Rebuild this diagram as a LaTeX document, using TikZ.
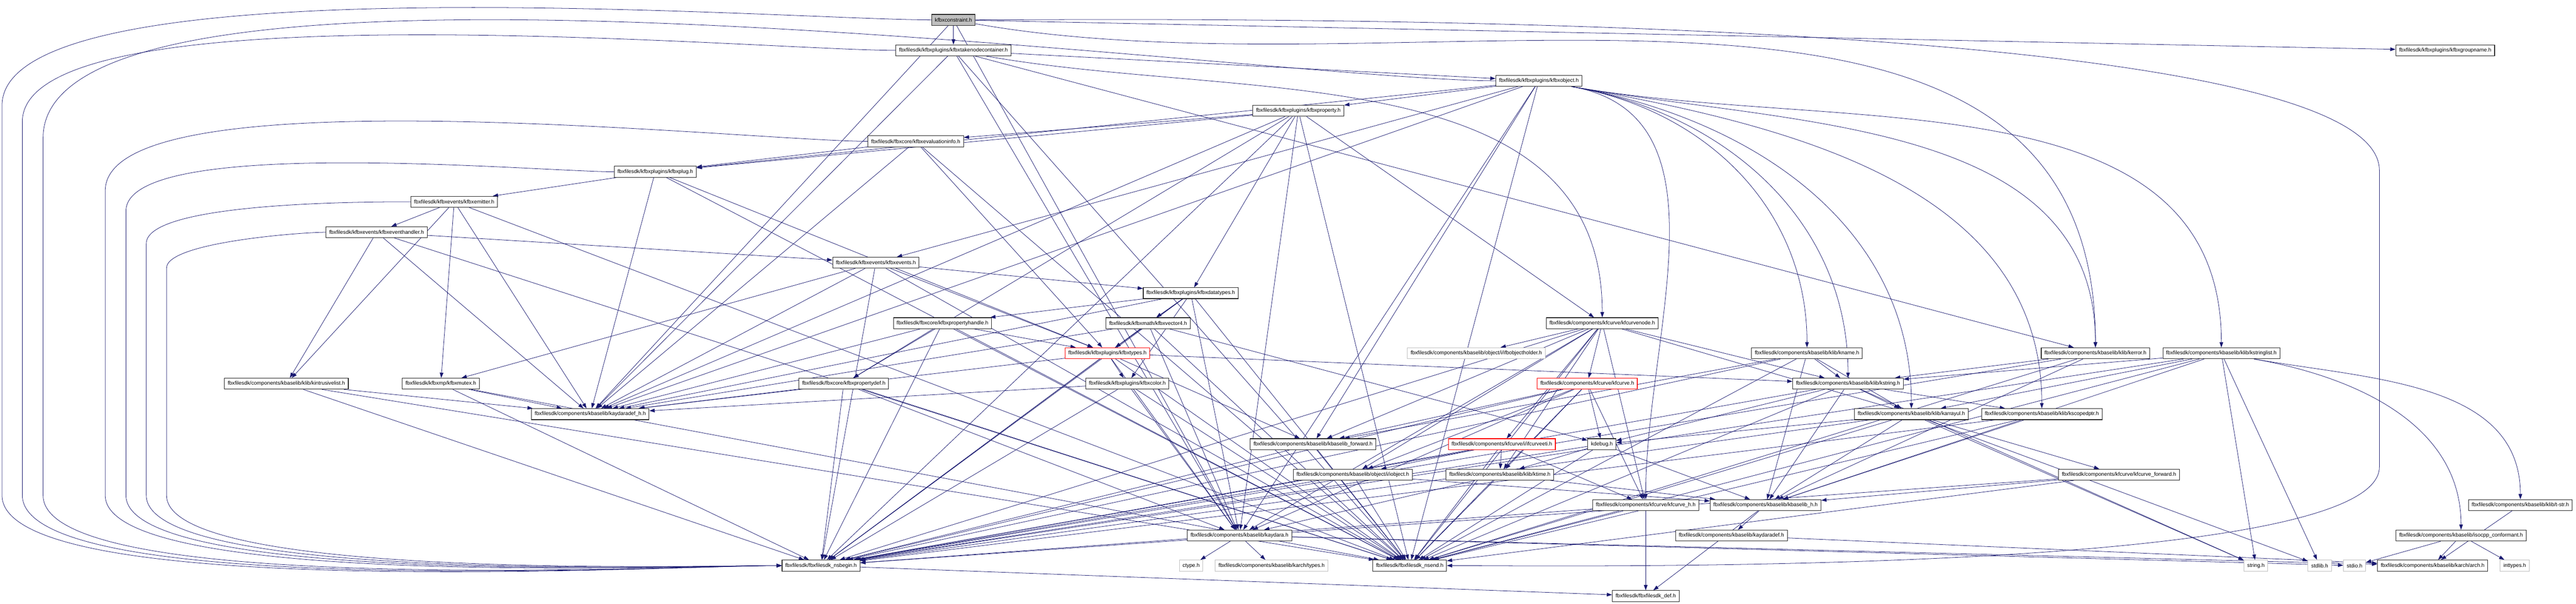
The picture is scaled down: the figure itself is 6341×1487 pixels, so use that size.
\documentclass[tikz,border=0pt]{standalone}
\usepackage{fontspec}
\setmainfont{Liberation Sans}
\definecolor{azulnoche}{RGB}{25,25,112}
\definecolor{gris}{RGB}{191,191,191}
\usetikzlibrary{arrows.meta}
\pgfdeclarelayer{fondo}
\pgfsetlayers{fondo,main}

\tikzset{
    archivo/.style={draw=black!85, line width=0.4pt, fill=white, minimum height=0.27cm, inner xsep=0.08cm, inner ysep=0pt, font=\fontsize{3.7pt}{4.4pt}\selectfont},
    sistema/.style={archivo, draw=gris},
    truncado/.style={archivo, draw=red},
    raiz/.style={archivo, fill=gris},
    dep/.style={azulnoche, line width=0.28pt, -{Triangle[length=0.13cm, width=0.09cm]}}
}

\begin{document}
\begin{tikzpicture}[x=0.01cm, y=-0.01cm]
    \useasboundingbox (0,0) rectangle (6341,1487);

    % Top of the graph
    \node[raiz] (con) at (2347,49) {kfbxconstraint.h};
    \node[archivo] (tnc) at (2347,124) {fbxfilesdk/kfbxplugins/kfbxtakenodecontainer.h};
    \node[archivo] (grp) at (6019,124) {fbxfilesdk/kfbxplugins/kfbxgroupname.h};
    \node[archivo] (obj) at (3788,199) {fbxfilesdk/kfbxplugins/kfbxobject.h};
    \node[archivo] (prop) at (3196,273) {fbxfilesdk/kfbxplugins/kfbxproperty.h};
    \node[archivo] (evi) at (2254,348) {fbxfilesdk/fbxcore/kfbxevaluationinfo.h};
    \node[archivo] (plug) at (1613,423) {fbxfilesdk/kfbxplugins/kfbxplug.h};
    \node[archivo] (emit) at (1118,497) {fbxfilesdk/kfbxevents/kfbxemitter.h};
    \node[archivo] (evh) at (927,572) {fbxfilesdk/kfbxevents/kfbxeventhandler.h};
    \node[archivo] (evts) at (2156,647) {fbxfilesdk/kfbxevents/kfbxevents.h};
    \node[archivo] (dtyp) at (2931,722) {fbxfilesdk/kfbxplugins/kfbxdatatypes.h};

    % Middle rows
    \node[archivo] (phnd) at (2320,796) {fbxfilesdk/fbxcore/kfbxpropertyhandle.h};
    \node[archivo] (vec4) at (2826,796) {fbxfilesdk/kfbxmath/kfbxvector4.h};
    \node[archivo] (cnode) at (3944,796) {fbxfilesdk/components/kfcurve/kfcurvenode.h};
    \node[truncado] (typ) at (2726,870) {fbxfilesdk/kfbxplugins/kfbxtypes.h};
    \node[sistema] (ohold) at (3634,870) {fbxfilesdk/components/kbaselib/object/i/ifbobjectholder.h};
    \node[archivo] (kname) at (4448,870) {fbxfilesdk/components/kbaselib/klib/kname.h};
    \node[archivo] (kerr) at (5158,870) {fbxfilesdk/components/kbaselib/klib/kerror.h};
    \node[archivo] (slist) at (5468,870) {fbxfilesdk/components/kbaselib/klib/kstringlist.h};
    \node[archivo] (ilist) at (705,945) {fbxfilesdk/components/kbaselib/klib/kintrusivelist.h};
    \node[archivo] (mutex) at (1085,945) {fbxfilesdk/kfbxmp/kfbxmutex.h};
    \node[archivo] (pdef) at (2077,945) {fbxfilesdk/fbxcore/kfbxpropertydef.h};
    \node[archivo] (col) at (2775,945) {fbxfilesdk/kfbxplugins/kfbxcolor.h};
    \node[truncado] (kfc) at (3907,945) {fbxfilesdk/components/kfcurve/kfcurve.h};
    \node[archivo] (kstr) at (4549,945) {fbxfilesdk/components/kbaselib/klib/kstring.h};
    \node[archivo] (adefh) at (1453,1020) {fbxfilesdk/components/kbaselib/kaydaradef\_h.h};
    \node[archivo] (arr) at (4705,1020) {fbxfilesdk/components/kbaselib/klib/karrayul.h};
    \node[archivo] (sptr) at (5026,1020) {fbxfilesdk/components/kbaselib/klib/kscopedptr.h};
    \node[archivo] (bfwd) at (3232,1094) {fbxfilesdk/components/kbaselib/kbaselib\_forward.h};
    \node[truncado] (eti) at (3697,1094) {fbxfilesdk/components/kfcurve/i/ifcurveeti.h};
    \node[archivo] (kdbg) at (3943,1094) {kdebug.h};
    \node[archivo] (iobj) at (3330,1169) {fbxfilesdk/components/kbaselib/object/i/iobject.h};
    \node[archivo] (ktime) at (3692,1169) {fbxfilesdk/components/kbaselib/klib/ktime.h};
    \node[archivo] (cfwd) at (5216,1169) {fbxfilesdk/components/kfcurve/kfcurve\_forward.h};
    \node[archivo] (kfch) at (4051,1244) {fbxfilesdk/components/kfcurve/kfcurve\_h.h};
    \node[archivo] (blh) at (4346,1244) {fbxfilesdk/components/kbaselib/kbaselib\_h.h};
    \node[archivo] (tstr) at (6204,1244) {fbxfilesdk/components/kbaselib/klib/t-str.h};
    \node[archivo] (kay) at (3051,1319) {fbxfilesdk/components/kbaselib/kaydara.h};
    \node[archivo] (adef) at (4262,1319) {fbxfilesdk/components/kbaselib/kaydaradef.h};
    \node[archivo] (iso) at (6058,1319) {fbxfilesdk/components/kbaselib/isocpp\_conformant.h};

    % Bottom rows
    \node[archivo] (nsb) at (2021,1393) {fbxfilesdk/fbxfilesdk\_nsbegin.h};
    \node[sistema] (ctype) at (2932,1393) {ctype.h};
    \node[sistema] (atypes) at (3130,1393) {fbxfilesdk/components/kbaselib/karch/types.h};
    \node[archivo] (nse) at (3470,1393) {fbxfilesdk/fbxfilesdk\_nsend.h};
    \node[sistema] (strh) at (5553,1393) {string.h};
    \node[sistema] (stdl) at (5710,1393) {stdlib.h};
    \node[sistema] (stdio) at (5796,1393) {stdio.h};
    \node[archivo] (arch) at (5988,1393) {fbxfilesdk/components/kbaselib/karch/arch.h};
    \node[sistema] (intt) at (6190,1393) {inttypes.h};
    \node[archivo] (fdef) at (4051,1468) {fbxfilesdk/fbxfilesdk\_def.h};

    \begin{pgfonlayer}{fondo}
    % Include edges
    \foreach \a/\b in {con/tnc, con/grp, con/adefh, con/kay,
        tnc/obj, tnc/kay, tnc/kerr, tnc/nse, tnc/adefh,
        obj/prop, obj/evts, obj/plug, obj/bfwd, obj/adefh, obj/kay, obj/nse,
        prop/evi, prop/plug, prop/dtyp, prop/pdef, prop/cnode, prop/adefh, prop/kay, prop/nse, prop/nsb,
        evi/plug, evi/typ, evi/adefh, evi/nse,
        plug/emit, plug/typ, plug/adefh, plug/nse,
        emit/evh, emit/mutex, emit/ilist, emit/adefh, emit/nse,
        evh/evts, evh/ilist, evh/adefh, evh/nse,
        evts/dtyp, evts/typ, evts/mutex, evts/adefh, evts/nsb, evts/nse,
        dtyp/phnd, dtyp/vec4, dtyp/typ, dtyp/col, dtyp/adefh, dtyp/kay, dtyp/nsb, dtyp/nse,
        phnd/typ, phnd/pdef, phnd/adefh, phnd/nsb, phnd/nse,
        vec4/typ, vec4/kdbg, vec4/adefh, vec4/kay, vec4/nsb, vec4/nse,
        typ/col, typ/bfwd, typ/adefh, typ/kay, typ/kstr, typ/nsb, typ/nse,
        col/adefh, col/kay, col/nsb, col/nse,
        pdef/adefh, pdef/kay, pdef/nsb, pdef/nse,
        mutex/adefh, mutex/nsb, mutex/nse,
        ilist/adefh, ilist/nsb, ilist/nse,
        cnode/ohold, cnode/kfc, cnode/eti, cnode/kfch, cnode/iobj, cnode/ktime, cnode/bfwd, cnode/cfwd, cnode/kstr, cnode/kay, cnode/nsb, cnode/nse,
        kfc/iobj, kfc/ktime, kfc/kdbg, kfc/kfch, kfc/bfwd, kfc/kay, kfc/nsb, kfc/nse,
        eti/ktime, eti/iobj, eti/kfch, eti/nsb, eti/nse,
        kdbg/ktime, kdbg/blh, kdbg/nsb, kdbg/nse,
        iobj/blh, iobj/nsb, iobj/nse,
        ktime/blh, ktime/kay, ktime/nse,
        bfwd/nsb, bfwd/nse,
        kfch/fdef, kfch/nsb, kfch/nse,
        blh/adef, blh/fdef, adef/arch,
        kname/kstr, kname/arr, kname/bfwd, kname/blh, kname/nsb, kname/nse,
        kstr/arr, kstr/sptr, kstr/kdbg, kstr/blh, kstr/strh, kstr/nsb, kstr/nse,
        arr/kdbg, arr/blh, arr/stdl, arr/strh, arr/nsb, arr/nse,
        sptr/blh, sptr/nsb, sptr/nse,
        kerr/kstr, kerr/blh, kerr/nsb, kerr/nse,
        slist/kstr, slist/arr, slist/blh, slist/strh, slist/stdl, slist/nsb, slist/nse,
        cfwd/blh, cfwd/nsb, cfwd/nse,
        kay/ctype, kay/atypes, kay/stdio, kay/arch,
        iso/stdio, iso/arch, iso/intt, tstr/arch, nsb/fdef}
        \draw[dep] (\a) -- (\b);

    % Edges that bend to the right and drop down
    \foreach \a/\b in {con/kerr, tnc/cnode, obj/kfch, obj/kname, obj/kstr, obj/arr, obj/sptr, obj/kerr, obj/slist, slist/tstr, slist/iso}
        \draw[dep] (\a) to[out=-10, in=90] (\b);

    % Edges routed round the left side
    \foreach \s/\xv/\yv in {con/5/260, tnc/55/300, obj/106/340, evi/259/470, plug/310/520, emit/360/600, evh/410/660}
        \draw[dep] (\s.west) to[out=180, in=90, looseness=0.4] (\xv,\yv) -- (\xv,1220) to[out=-90, in=180, looseness=0.35] (nsb.west);

    % Edge routed round the right side
    \draw[dep] (con.east) to[out=0, in=90, looseness=0.3] (5857,420) -- (5857,1150) to[out=-90, in=0, looseness=0.3] (nse.east);
    \end{pgfonlayer}
\end{tikzpicture}
\end{document}
